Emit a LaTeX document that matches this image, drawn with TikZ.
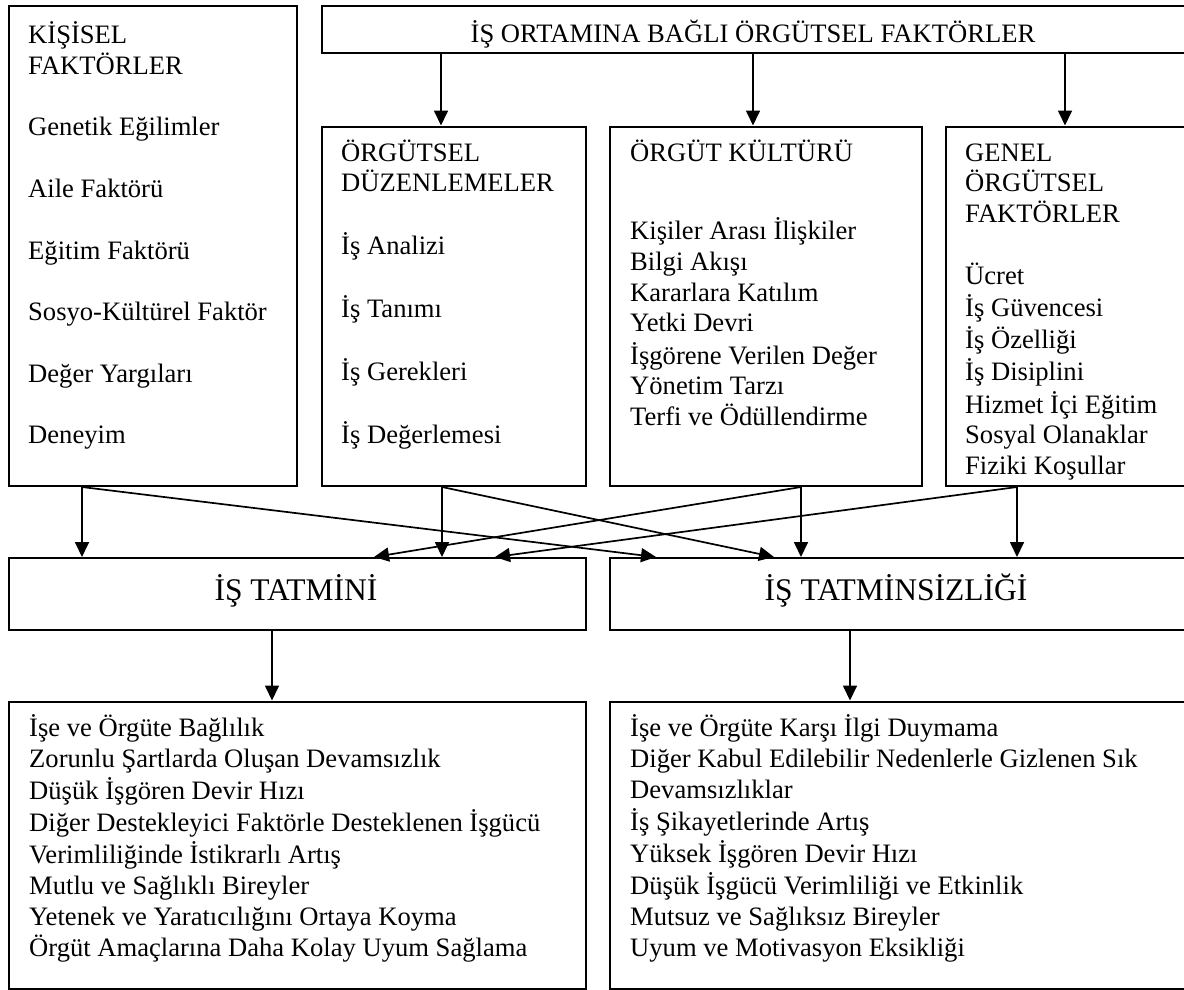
\documentclass[tikz,border=0pt]{standalone}
\usepackage{fontspec}
\setmainfont{Liberation Serif}
\usetikzlibrary{arrows.meta}
\newcommand\bodyfont{\fontsize{26.6}{30.8}\selectfont}
\newcommand\headfont{\fontsize{31.5}{36}\selectfont}
\begin{document}
\begin{tikzpicture}[x=1pt,y=-1pt,
  box/.style={draw, rectangle, line width=2pt, anchor=north west, inner sep=0pt},
  txt/.style={anchor=north west, align=left, inner sep=0pt, font=\bodyfont},
  ttl/.style={anchor=base, inner sep=0pt},
  arr/.style={line width=1.7pt, -{Triangle[length=15pt,width=14pt]}}]
\useasboundingbox[fill=white] (0,0) rectangle (1184,989);

% frames
\node[box, minimum width=288pt, minimum height=480pt] (kis) at (8,5) {};
\node[box, minimum width=866pt, minimum height=47pt] (top) at (321,5) {};
\node[box, minimum width=264pt, minimum height=359.5pt] (org) at (321,125.5) {};
\node[box, minimum width=312pt, minimum height=359.5pt] (kul) at (609,125.5) {};
\node[box, minimum width=242pt, minimum height=359.5pt] (gen) at (945,125.5) {};
\node[box, minimum width=577pt, minimum height=72pt] (tat) at (8,557) {};
\node[box, minimum width=578pt, minimum height=72pt] (tsz) at (609,557) {};
\node[box, minimum width=577pt, minimum height=287pt] (pos) at (8,700.5) {};
\node[box, minimum width=578pt, minimum height=287pt] (neg) at (609,700.5) {};

% texts
\node[ttl, font=\bodyfont] (topT) at (753,42) {İŞ ORTAMINA BAĞLI ÖRGÜTSEL FAKTÖRLER};
\node[ttl, font=\headfont] (tatT) at (296,600) {İŞ TATMİNİ};
\node[ttl, font=\headfont] (tszT) at (896,600) {İŞ TATMİNSİZLİĞİ};

\node[txt] (kisT) at (28,21.4) {\strut KİŞİSEL\\ \strut FAKTÖRLER\\ \strut\\
  \strut Genetik Eğilimler\\ \strut\\ \strut Aile Faktörü\\ \strut\\
  \strut Eğitim Faktörü\\ \strut\\ \strut Sosyo-Kültürel Faktör\\ \strut\\
  \strut Değer Yargıları\\ \strut\\ \strut Deneyim};
\node[txt] (orgT) at (341,139.4) {\strut ÖRGÜTSEL\\ \strut DÜZENLEMELER\\ \strut\\
  \strut İş Analizi\\ \strut\\ \strut İş Tanımı\\ \strut\\
  \strut İş Gerekleri\\ \strut\\ \strut İş Değerlemesi};
\node[txt] (kulT) at (630,139.4) {\strut ÖRGÜT KÜLTÜRÜ\\ \strut\\[15.4pt]
  \strut Kişiler Arası İlişkiler\\ \strut Bilgi Akışı\\ \strut Kararlara Katılım\\
  \strut Yetki Devri\\ \strut İşgörene Verilen Değer\\ \strut Yönetim Tarzı\\
  \strut Terfi ve Ödüllendirme};
\node[txt] (genT) at (965,139.4) {\strut GENEL\\ \strut ÖRGÜTSEL\\ \strut FAKTÖRLER\\ \strut\\
  \strut Ücret\\ \strut İş Güvencesi\\ \strut İş Özelliği\\ \strut İş Disiplini\\
  \strut Hizmet İçi Eğitim\\ \strut Sosyal Olanaklar\\ \strut Fiziki Koşullar};
\node[txt] (posT) at (29,714.4) {\strut İşe ve Örgüte Bağlılık\\
  \strut Zorunlu Şartlarda Oluşan Devamsızlık\\
  \strut Düşük İşgören Devir Hızı\\
  \strut Diğer Destekleyici Faktörle Desteklenen İşgücü\\
  \strut Verimliliğinde İstikrarlı Artış\\
  \strut Mutlu ve Sağlıklı Bireyler\\
  \strut Yetenek ve Yaratıcılığını Ortaya Koyma\\
  \strut Örgüt Amaçlarına Daha Kolay Uyum Sağlama};
\node[txt] (negT) at (630,714.4) {\strut İşe ve Örgüte Karşı İlgi Duymama\\
  \strut Diğer Kabul Edilebilir Nedenlerle Gizlenen Sık\\
  \strut Devamsızlıklar\\
  \strut İş Şikayetlerinde Artış\\
  \strut Yüksek İşgören Devir Hızı\\
  \strut Düşük İşgücü Verimliliği ve Etkinlik\\
  \strut Mutsuz ve Sağlıksız Bireyler\\
  \strut Uyum ve Motivasyon Eksikliği};

% connector columns
\coordinate (ca) at (441,0);
\coordinate (cb) at (753,0);
\coordinate (cc) at (1065,0);
\coordinate (c1) at (82,0);
\coordinate (c2) at (442,0);
\coordinate (c3) at (801,0);
\coordinate (c4) at (1017,0);
\coordinate (d1) at (656,0);
\coordinate (d2) at (774,0);
\coordinate (d3) at (374,0);
\coordinate (d4) at (495,0);
\coordinate (e1) at (272,0);
\coordinate (e2) at (850,0);

% organisational factors feed the three groups
\draw[arr] (top.south -| ca) -- (org.north -| ca);
\draw[arr] (top.south -| cb) -- (kul.north -| cb);
\draw[arr] (top.south -| cc) -- (gen.north -| cc);

% every group feeds both outcomes
\draw[arr] (kis.south -| c1) -- (tat.north -| c1);
\draw[arr] (org.south -| c2) -- (tat.north -| c2);
\draw[arr] (kul.south -| c3) -- (tsz.north -| c3);
\draw[arr] (gen.south -| c4) -- (tsz.north -| c4);
\draw[arr] (kis.south -| c1) -- (tsz.north -| d1);
\draw[arr] (org.south -| c2) -- (tsz.north -| d2);
\draw[arr] (kul.south -| c3) -- (tat.north -| d3);
\draw[arr] (gen.south -| c4) -- (tat.north -| d4);

% outcomes and their consequences
\draw[arr] (tat.south -| e1) -- (pos.north -| e1);
\draw[arr] (tsz.south -| e2) -- (neg.north -| e2);
\end{tikzpicture}
\end{document}
